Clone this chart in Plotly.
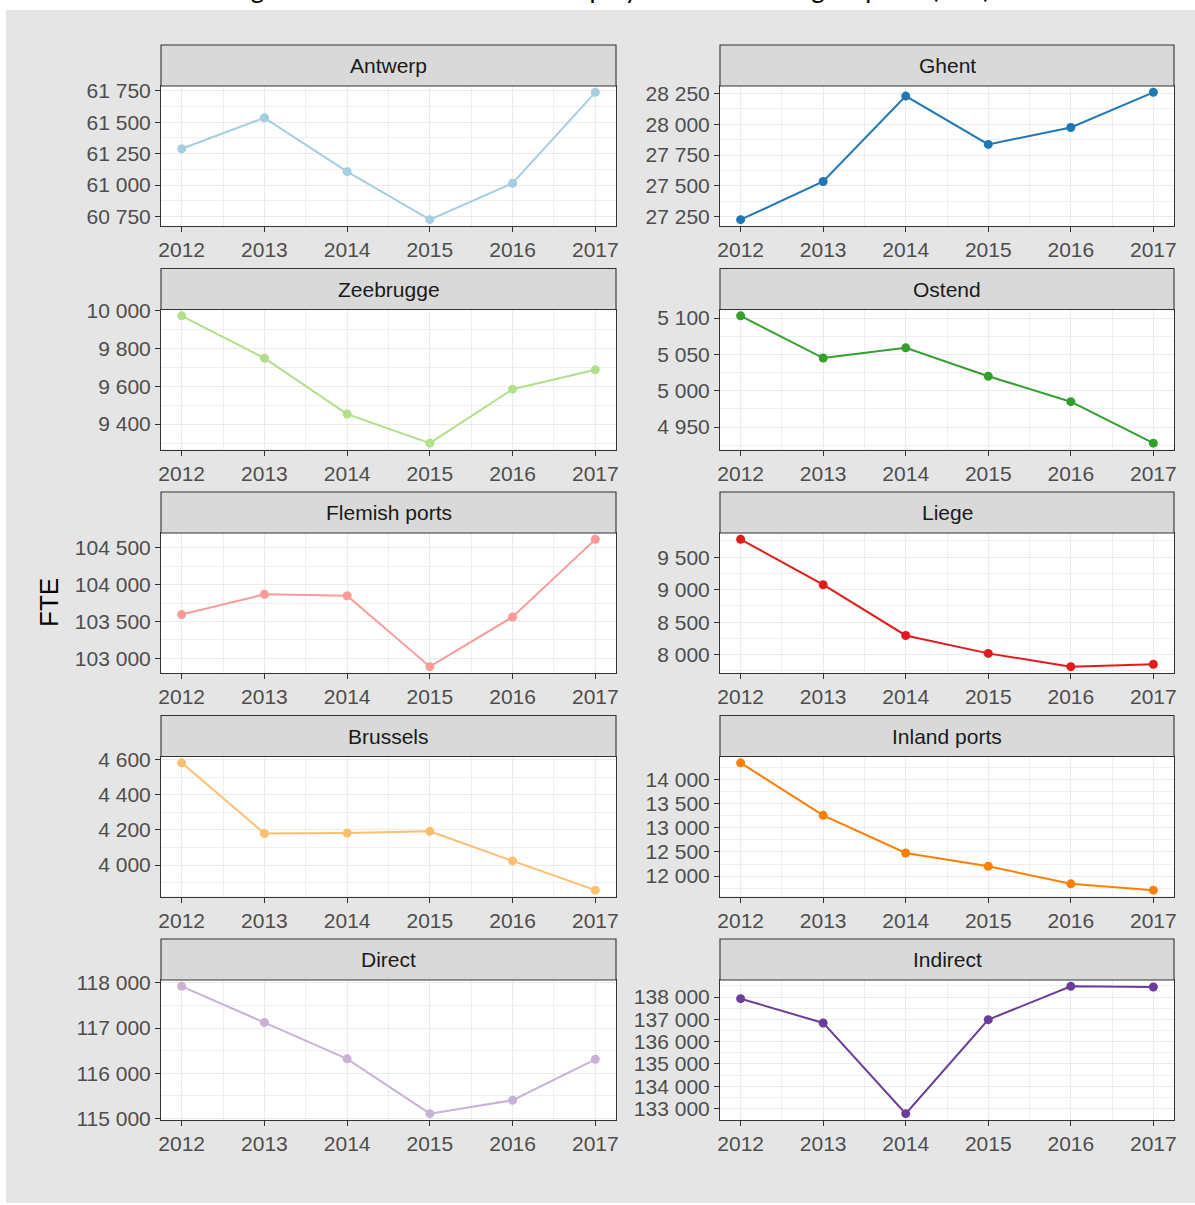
import plotly.graph_objects as go

# ---------------- data ----------------
years = [2012, 2013, 2014, 2015, 2016, 2017]
panels = ["Antwerp", "Ghent", "Zeebrugge", "Ostend", "Flemish ports",
          "Liege", "Brussels", "Inland ports", "Direct", "Indirect"]
antwerp = [61289, 61535, 61107, 60726, 61015, 61737]
ghent = [27226, 27535, 28228, 27836, 27973, 28258]
zeebrugge = [9970, 9747, 9453, 9300, 9584, 9686]
ostend = [5103, 5045, 5059, 5020, 4985, 4928]
flemish_ports = [103595, 103870, 103851, 102888, 103563, 104617]
liege = [9775, 9077, 8296, 8020, 7816, 7851]
brussels = [4581, 4180, 4182, 4192, 4024, 3858]
inland_ports = [14344, 13258, 12479, 12204, 11841, 11710]
direct = [117925, 117124, 116318, 115102, 115400, 116307]
indirect = [137925, 136838, 132775, 136985, 138477, 138450]
series = [antwerp, ghent, zeebrugge, ostend, flemish_ports,
          liege, brussels, inland_ports, direct, indirect]
colors = ["#A6CEE3", "#1F78B4", "#B2DF8A", "#33A02C", "#FB9A99",
          "#E31A1C", "#FDBF6F", "#FF7F00", "#CAB2D6", "#6A3D9A"]
y_tick_steps = [250, 250, 200, 50, 500, 500, 200, 500, 1000, 1000]
title_text = "Figure 3: Direct and indirect employment in the Belgian ports (FTE)"
y_title = "FTE"

# ---------------- layout geometry (pixels) ----------------
W, H = 1195, 1205
col_x = [(161, 616), (720, 1174)]
panel_top0, row_pitch, panel_h, strip_h = 86, 223.5, 140, 41
title_band = 10  # white band at the top where the (cropped) title sits


def px_x(x):
    return x / W


def px_y(y):
    return 1 - y / H


fig = go.Figure()
shapes = []
annotations = []

# white margins around the gray plot background
shapes.append(dict(type="rect", xref="paper", yref="paper", x0=0, x1=1,
                   y0=px_y(title_band), y1=1, fillcolor="white",
                   line=dict(width=0), layer="below"))
shapes.append(dict(type="rect", xref="paper", yref="paper", x0=0, x1=px_x(6),
                   y0=0, y1=1, fillcolor="white", line=dict(width=0), layer="below"))
shapes.append(dict(type="rect", xref="paper", yref="paper", x0=0, x1=1,
                   y0=0, y1=px_y(1203), fillcolor="white", line=dict(width=0), layer="below"))

axis_common = dict(showline=True, mirror=True, linecolor="#333333", linewidth=1.1,
                   ticks="outside", ticklen=5, tickcolor="#333333", tickwidth=1.1,
                   showgrid=True, gridcolor="#EBEBEB", gridwidth=1.3, zeroline=False,
                   automargin=False,
                   tickfont=dict(family="Liberation Sans, Arial", size=21, color="#4D4D4D"))
minor_common = dict(showgrid=True, gridcolor="#EFEFEF", gridwidth=0.7, ticks="")

for i, (name, vals) in enumerate(zip(panels, series)):
    r, c = divmod(i, 2)
    x0, x1 = col_x[c]
    top = panel_top0 + row_pitch * r
    bottom = top + panel_h
    n = i + 1
    xa = "x" if n == 1 else f"x{n}"
    ya = "y" if n == 1 else f"y{n}"
    fig.add_trace(go.Scatter(x=years, y=vals, mode="lines+markers",
                             line=dict(color=colors[i], width=2),
                             marker=dict(color=colors[i], size=9),
                             xaxis=xa, yaxis=ya, showlegend=False, cliponaxis=False))
    lo, hi = min(vals), max(vals)
    span = hi - lo
    step = y_tick_steps[i]
    xkey = "xaxis" if n == 1 else f"xaxis{n}"
    ykey = "yaxis" if n == 1 else f"yaxis{n}"
    fig.layout[xkey] = dict(domain=[px_x(x0), px_x(x1)], anchor=ya,
                            range=[years[0] - 0.25, years[-1] + 0.25],
                            tickmode="array", tickvals=years,
                            minor=dict(tickmode="linear", tick0=years[0] + 0.5, dtick=1,
                                       **minor_common),
                            **axis_common)
    fig.layout[ykey] = dict(domain=[px_y(bottom), px_y(top)], anchor=xa,
                            range=[lo - 0.05 * span, hi + 0.05 * span],
                            tickmode="linear", tick0=0, dtick=step,
                            tickformat=",d",
                            minor=dict(tickmode="linear", tick0=step / 2, dtick=step,
                                       **minor_common),
                            **axis_common)
    # facet strip
    shapes.append(dict(type="rect", xref="paper", yref="paper",
                       x0=px_x(x0), x1=px_x(x1), y0=px_y(top), y1=px_y(top - strip_h),
                       fillcolor="#D9D9D9", line=dict(color="#333333", width=1.1),
                       layer="above"))
    annotations.append(dict(text=name, xref="paper", yref="paper",
                            x=px_x((x0 + x1) / 2), y=px_y(top - strip_h / 2),
                            xanchor="center", yanchor="middle", showarrow=False,
                            font=dict(family="Liberation Sans, Arial", size=21, color="#1A1A1A")))

# title: sits mostly above the page, only its lowest part visible (as in the reference)
tn = len(panels) + 1
fig.add_trace(go.Scatter(x=[610], y=[-8.5], mode="text", text=[title_text],
                         textposition="middle center", cliponaxis=True,
                         textfont=dict(family="Lato, Open Sans", size=26, color="#000000"),
                         xaxis=f"x{tn}", yaxis=f"y{tn}", showlegend=False, hoverinfo="skip"))
fig.layout[f"xaxis{tn}"] = dict(domain=[0, 1], range=[0, W], visible=False,
                                fixedrange=True, automargin=False, showgrid=False)
fig.layout[f"yaxis{tn}"] = dict(domain=[px_y(title_band), 1], range=[title_band, 0],
                                visible=False, fixedrange=True, anchor=f"x{tn}",
                                automargin=False, showgrid=False)

annotations.append(dict(text=y_title, xref="paper", yref="paper",
                        x=px_x(49), y=px_y(603), textangle=-90,
                        xanchor="center", yanchor="middle", showarrow=False,
                        font=dict(family="Liberation Sans, Arial", size=26, color="#000000")))

fig.update_layout(template="none", width=W, height=H,
                  margin=dict(l=0, r=0, t=0, b=0, pad=0, autoexpand=False),
                  paper_bgcolor="#E5E5E5", plot_bgcolor="white",
                  separators=". ", shapes=shapes, annotations=annotations,
                  showlegend=False, autosize=False)

fig.write_html("out.html", config={"displayModeBar": False},
               post_script="document.body.style.margin='0';document.body.style.overflow='hidden';")
